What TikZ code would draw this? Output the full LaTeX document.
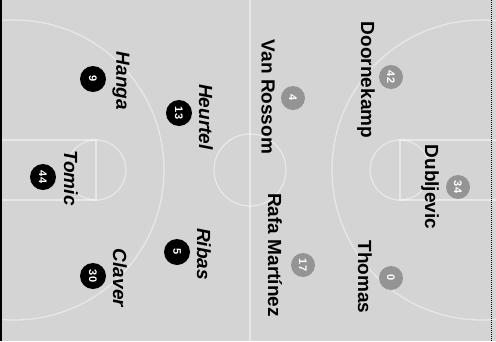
\documentclass[tikz,border=0pt]{standalone}
\usepackage{fontspec}
\setmainfont{Liberation Sans}

\begin{document}
\begin{tikzpicture}[x=1pt, y=-1pt,
    local/.style={circle, fill=black, text=white, minimum size=26pt, inner sep=0pt,
                  font=\fontsize{11}{11}\selectfont\bfseries, rotate=-90},
    guest/.style={local, fill=black!42, minimum size=24pt},
    lname/.style={font=\fontsize{19}{19}\selectfont\bfseries\itshape, rotate=-90, inner sep=0pt},
    gname/.style={lname, font=\fontsize{19}{19}\selectfont\bfseries},
    court/.style={white, line width=1.3pt, opacity=0.45}]
  \fill[black!17] (0,0) rectangle (496,341);
  \useasboundingbox (0,0) rectangle (496,341);
  % faint court lines
  \begin{scope}
    \clip (0,0) rectangle (496,341);
    \draw[court] (250,0) -- (250,341);
    \draw[court] (250,170) circle (36);
    \draw[court] (482,170) circle (150);
    \draw[court] (14,170) circle (150);
    \draw[court] (496,140) -- (400,140) -- (400,200) -- (496,200);
    \draw[court] (400,170) circle (30);
    \draw[court] (0,140) -- (96,140) -- (96,200) -- (0,200);
    \draw[court] (96,170) circle (30);
  \end{scope}
  \draw[black, line width=1.5pt] (1,0) -- (1,341);
  \draw[black, densely dotted, line width=1pt] (491,0) -- (491,341);
  % home side: dark discs, italic names
  \foreach \id/\num/\cx/\cy/\who/\tx/\ty in {hanga/9/93/79/Hanga/121/81,
      heurtel/13/179/113/Heurtel/206/117, tomic/44/43/177/Tomic/71/178,
      ribas/5/177/252/Ribas/204/254, claver/30/93/276/Claver/120/278}{
    \node[local] (n-\id) at (\cx,\cy) {\num};
    \node[lname] (t-\id) at (\tx,\ty) {\who};
  }
  % away side: grey discs, upright names
  \foreach \id/\num/\cx/\cy/\who/\tx/\ty in {doorn/42/391/77/Doornekamp/366/80,
      rossom/4/293/98/Van Rossom/268/97, dublj/34/458/187/Dubljevic/430/187,
      rafa/17/303/265/Rafa Martínez/275/255, thomas/0/391/278/Thomas/365/277}{
    \node[guest] (n-\id) at (\cx,\cy) {\num};
    \node[gname] (t-\id) at (\tx,\ty) {\who};
  }
\end{tikzpicture}
\end{document}
